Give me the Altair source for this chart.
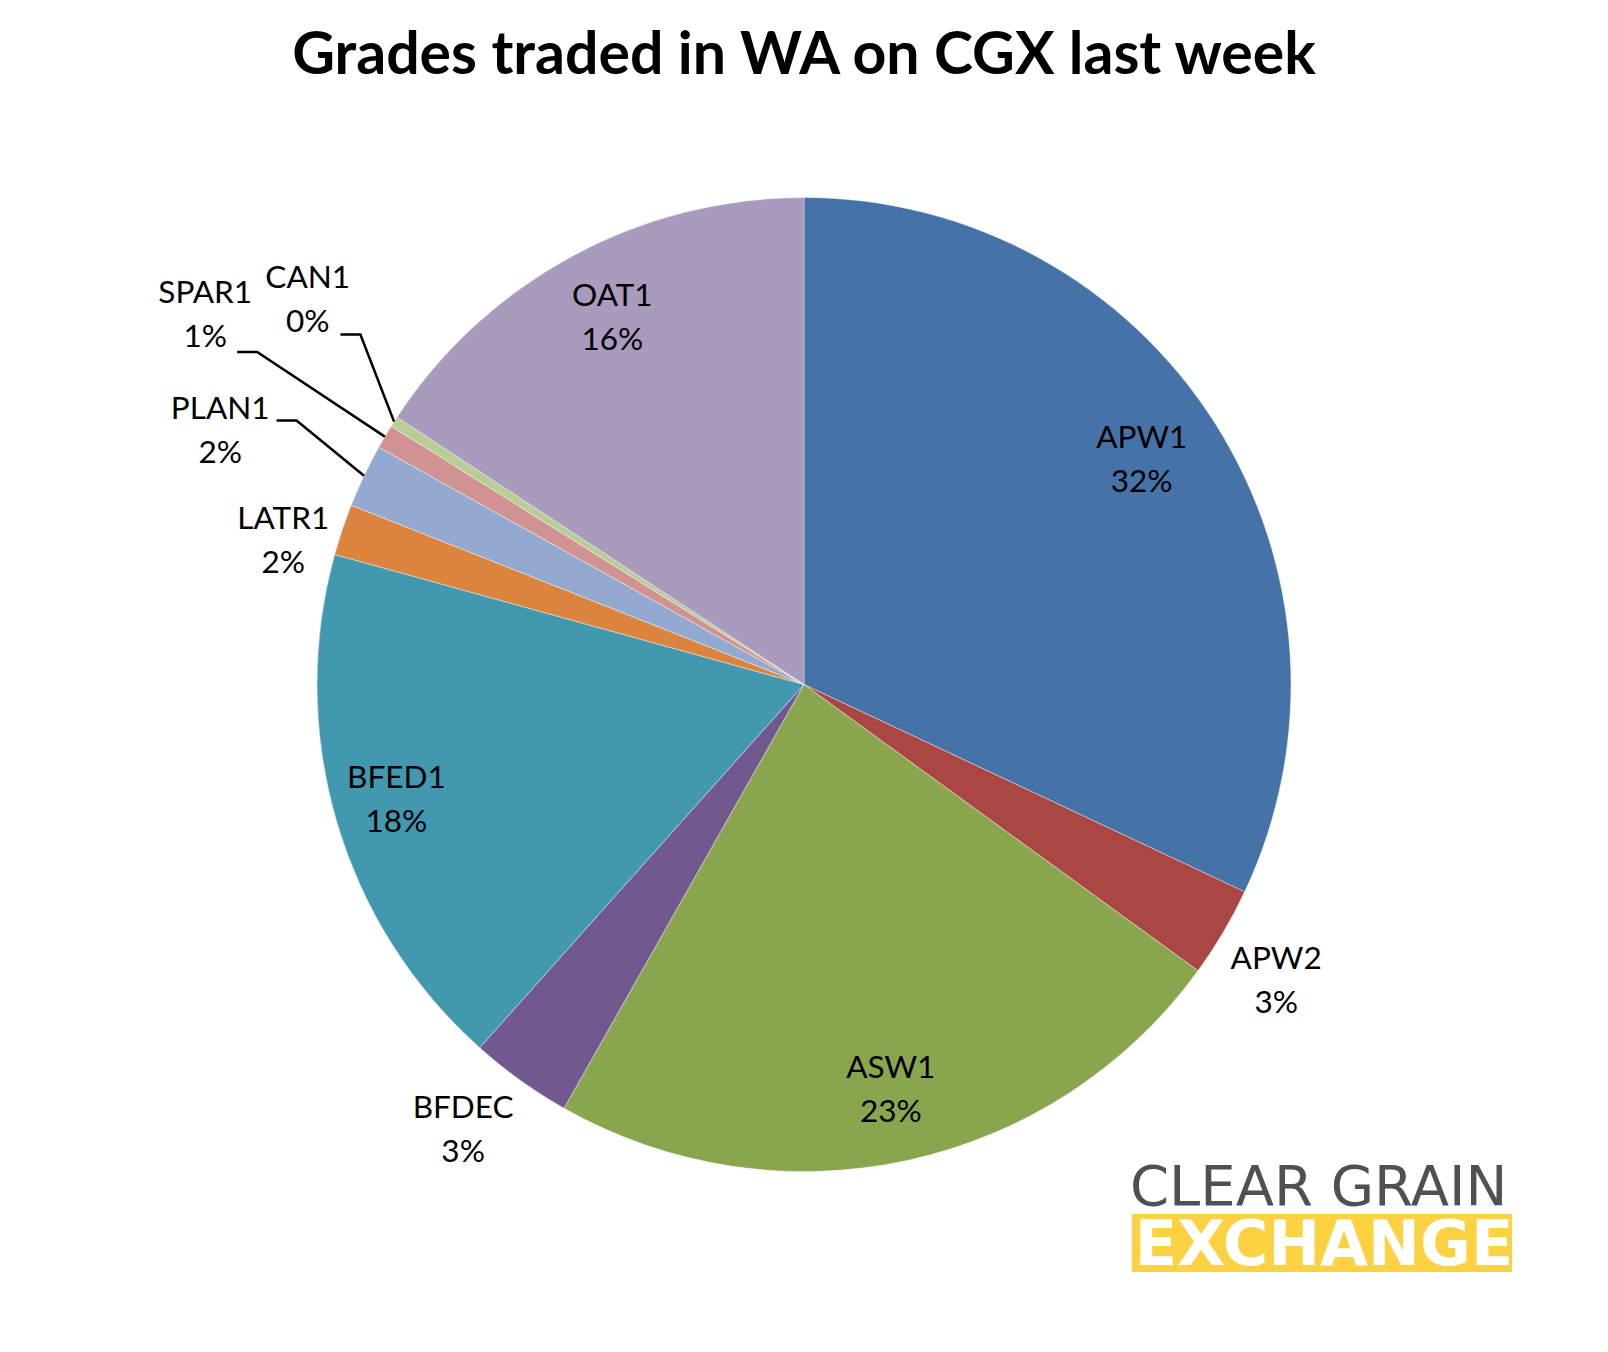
import math
import altair as alt
import pandas as pd

# ---- data ----
grades = ["APW1", "APW2", "ASW1", "BFDEC", "BFED1", "LATR1", "PLAN1", "SPAR1", "CAN1", "OAT1"]
shares = [32.0, 3.0, 23.2, 3.4, 17.7, 1.7, 2.1, 0.8, 0.35, 15.75]
colors = ["#4572A7", "#AA4643", "#89A54E", "#71588F", "#4198AF",
          "#DB843D", "#93A9CF", "#D19392", "#B9CD96", "#A99BBD"]
title_text = "Grades traded in WA on CGX last week"

# ---- layout ----
W, H = 1592, 1336
CX, CY = 796, 676.5
R = 487
LH = 44
# label placement: (radius px, angle offset in degrees from slice middle)
label_layout = {
    "APW1": (405, -1.1), "APW2": (558, 1.6), "ASW1": (416, 0.2),
    "BFDEC": (562, 1.7), "BFED1": (424, 0.4), "LATR1": (540, -3.2),
    "PLAN1": (636, -2.0), "SPAR1": (703, 1.0), "CAN1": (627, 5.0),
    "OAT1": (413, 0.7),
}
# leader lines: knee (radius, angle offset), horizontal run length (px, leftwards)
leader_layout = {
    "CAN1": (565, 5.6, 20),
    "SPAR1": (640, 0.7, 20),
    "PLAN1": (572, 2.1, 20),
}

df = pd.DataFrame({"grade": grades, "share": shares})
df["idx"] = range(len(df))
total = df["share"].sum()
df["frac"] = df["share"] / total
df["end"] = df["frac"].cumsum()
df["start"] = df["end"] - df["frac"]
df["mid"] = (df["start"] + df["end"]) / 2
df["label"] = [f"{g}\n{round(f * 100):.0f}%" for g, f in zip(df["grade"], df["frac"])]
df["lab_theta"] = [2 * math.pi * m + math.radians(label_layout[g][1]) for g, m in zip(df["grade"], df["mid"])]
df["lab_r"] = [label_layout[g][0] for g in df["grade"]]


def polar(r, ang):
    return CX + r * math.sin(ang), CY - r * math.cos(ang)


rows = []
for g, m in zip(df["grade"], df["mid"]):
    if g not in leader_layout:
        continue
    kr, koff, run = leader_layout[g]
    a = 2 * math.pi * m
    ex, ey = polar(R, a)
    kx, ky = polar(kr, a + math.radians(koff))
    rows += [
        {"grade": g, "o": 0, "x": kx - run, "y": ky},
        {"grade": g, "o": 1, "x": kx, "y": ky},
        {"grade": g, "o": 2, "x": ex, "y": ey},
    ]
leaders = pd.DataFrame(rows)

base = alt.Chart(df)

pie = base.mark_arc(outerRadius=R, stroke="#ffffff", strokeWidth=0.4).encode(
    theta=alt.Theta("share:Q", stack=True),
    order=alt.Order("idx:Q"),
    color=alt.Color("grade:N", scale=alt.Scale(domain=grades, range=colors), legend=None),
    x=alt.value(CX),
    y=alt.value(CY),
)

labels = base.mark_text(
    font="Lato", fontSize=31.5, color="#000000", lineBreak="\n", lineHeight=LH,
    align="center", baseline="middle", dy=-LH / 2,
).encode(
    theta=alt.Theta("lab_theta:Q", scale=None, stack=None),
    radius=alt.Radius("lab_r:Q", scale=None),
    text="label:N",
    x=alt.value(CX),
    y=alt.value(CY),
)

lines = alt.Chart(leaders).mark_line(color="#000000", strokeWidth=2.5).encode(
    x=alt.X("x:Q", scale=None),
    y=alt.Y("y:Q", scale=None),
    detail="grade:N",
    order="o:Q",
)

title = alt.Chart(pd.DataFrame({"t": [title_text]})).mark_text(
    font="Lato", fontWeight="bold", fontSize=59, color="#000000",
    align="center", baseline="alphabetic",
).encode(text="t:N", x=alt.value(CX), y=alt.value(66))

logo_top = alt.Chart(pd.DataFrame({"t": ["CLEAR GRAIN"]})).mark_text(
    font="DejaVu Sans", fontSize=56, color="#505050", align="left", baseline="alphabetic",
).encode(text="t:N", x=alt.value(1122), y=alt.value(1197))

logo_bar = alt.Chart(pd.DataFrame({"a": [1]})).mark_rect(color="#FCD242").encode(
    x=alt.value(1124), x2=alt.value(1504), y=alt.value(1206), y2=alt.value(1264)
)

logo_bottom = alt.Chart(pd.DataFrame({"t": ["EXCHANGE"]})).mark_text(
    font="DejaVu Sans", fontWeight="bold", fontSize=62, color="#ffffff",
    align="center", baseline="alphabetic",
).encode(text="t:N", x=alt.value(1316), y=alt.value(1257))

chart = alt.layer(pie, lines, labels, title, logo_bar, logo_bottom, logo_top).properties(
    width=W, height=H, autosize="none", padding=0
).configure_view(stroke=None)

chart.save("out.html", embed_options={"renderer": "svg", "actions": False})
